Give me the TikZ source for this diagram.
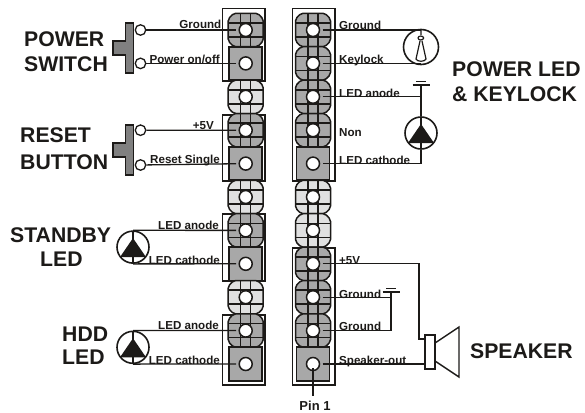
\documentclass[tikz,border=0pt]{standalone}
\usepackage{fontspec}
\setmainfont{Liberation Sans}
\definecolor{pingray}{HTML}{A8A8A8}
\definecolor{pinlight}{HTML}{E0E0E0}
\definecolor{switchgray}{HTML}{808080}
\definecolor{inkline}{HTML}{1C1A18}
\tikzset{
  wire/.style={draw=inkline, line width=1.3pt},
  pinline/.style={draw=inkline, line width=1.5pt},
  hole/.style={circle, draw=inkline, line width=1.5pt, fill=white, minimum size=13pt, inner sep=0pt, outer sep=3pt},
  terminal/.style={circle, draw=inkline, line width=1.3pt, fill=white, minimum size=10.5pt, inner sep=0pt},
  ledbody/.style={circle, draw=inkline, line width=1.6pt, fill=white, minimum size=32pt, inner sep=0pt},
  pinlabel/.style={font=\fontsize{11.6}{13}\selectfont\bfseries, text=inkline, inner sep=0pt},
  biglabel/.style={font=\fontsize{21.2}{24}\selectfont\bfseries, text=inkline, inner sep=0pt, anchor=base west},
  pics/octpin/.style={code={
    \draw[pinline, fill=#1, rounded corners=2pt] (-12,-16.7) -- (12,-16.7) -- (17.5,-11) -- (17.5,11)
      -- (12,16.7) -- (-12,16.7) -- (-17.5,11) -- (-17.5,-11) -- cycle;
    \draw[pinline] (-5,-16.7) -- (-5,16.7) (5,-16.7) -- (5,16.7) (-17.5,-7) -- (17.5,-7) (-17.5,7) -- (17.5,7);
  }},
  pics/squarepin/.style={code={
    \draw[line width=1.8pt, draw=inkline, fill=pingray] (-16.5,-16.7) rectangle (16.5,16.7);
  }},
  pics/ledmark/.style={code={
    \fill[inkline] (0,-9) -- (13,10) -- (-13,10) -- cycle;
    \draw[wire] (0,-16) -- (0,16);
  }},
  pics/pushswitch/.style={code={
    \draw[pinline, fill=switchgray] (-8,-25) -- (0,-25) -- (0,25) -- (-8,25) -- (-8,7) -- (-20.5,7)
      -- (-20.5,-7) -- (-8,-7) -- cycle;
  }},
  pics/groundmark/.style={code={
    \draw[line width=1.5pt, draw=inkline] (-8.5,0) -- (8.5,0);
    \draw[line width=1.5pt, draw=inkline] (-5,-3.5) -- (5,-3.5);
  }}
}
\begin{document}
\begin{tikzpicture}[x=1pt,y=-1pt]
  \useasboundingbox (0,0) rectangle (585,412);
  \def\lx{245.7}
  \def\rx{313}
  % outer frames of the left header
  \foreach \top/\bot in {8.5/81, 115/181, 214/281, 315/385}
    \draw[pinline] (222.7,\top) rectangle (265,\bot);
  % outer frames of the right header
  \foreach \top/\bot in {8.5/181, 248/385}
    \draw[pinline] (292.7,\top) rectangle (335,\bot);
  % left header pins
  \foreach \row/\kind/\shade [evaluate=\row as \y using 30+33.4*(\row-1)] in
    {1/octpin/pingray, 2/squarepin/, 3/octpin/pinlight, 4/octpin/pingray, 5/squarepin/, 6/octpin/pinlight,
     7/octpin/pingray, 8/squarepin/, 9/octpin/pinlight, 10/octpin/pingray, 11/squarepin/}
    \pic at (\lx,\y) {\kind=\shade};
  % right header pins
  \foreach \row/\kind/\shade [evaluate=\row as \y using 30+33.4*(\row-1)] in
    {1/octpin/pingray, 2/octpin/pingray, 3/octpin/pingray, 4/octpin/pingray, 5/squarepin/, 6/octpin/pinlight,
     7/octpin/pinlight, 8/octpin/pingray, 9/octpin/pingray, 10/octpin/pingray, 11/squarepin/}
    \pic at (\rx,\y) {\kind=\shade};
  % pin holes
  \foreach \row [evaluate=\row as \y using 30+33.4*(\row-1)] in {1,...,11} {
    \node[hole] (L\row) at (\lx,\y) {};
    \node[hole] (R\row) at (\rx,\y) {};
  }
  % power switch and reset button
  \pic at (133.3,47.8) {pushswitch};
  \pic at (133.3,150) {pushswitch};
  \node[terminal] (pwrA) at (140.5,30) {};
  \node[terminal] (pwrB) at (140.5,63.4) {};
  \node[terminal] (rstA) at (140.5,130.2) {};
  \node[terminal] (rstB) at (140.5,165) {};
  \draw[wire] (pwrA) -- (L1);
  \draw[wire] (pwrB) -- (L2);
  \draw[wire] (rstA) -- (L4);
  \draw[wire] (rstB) -- (L5);
  % standby and hdd leds
  \node[ledbody] (ledS) at (133,247.1) {};
  \node[ledbody] (ledH) at (133,347.3) {};
  \pic at (ledS) {ledmark};
  \pic at (ledH) {ledmark};
  \draw[wire] (ledS.north) -- (L7);
  \draw[wire] (ledS.south) -- (L8);
  \draw[wire] (ledH.north) -- (L10);
  \draw[wire] (ledH.south) -- (L11);
  % keylock
  \node[ledbody, minimum size=35pt] (keyL) at (421,47) {};
  \draw[wire] (R1) -- (R1-|keyL.north);
  \draw[wire] (R2) -- (R2-|keyL.south);
  \draw[line width=1.2pt, draw=inkline] (421,30) -- (421,35) (418,38) arc (180:-180:2.8 and 2)
    (420,41) -- (416,59) .. controls (417,62) and (425,62) .. (426,59) -- (422,41);
  % power led
  \node[ledbody] (ledP) at (421,133) {};
  \pic at (ledP) {ledmark};
  \coordinate (gndP) at (421,85);
  \pic at (gndP) {groundmark};
  \draw[wire] (gndP) -- (ledP.north);
  \draw[wire] (R3) -| (gndP);
  \draw[wire] (ledP.south) |- (R5);
  % speaker
  \node[draw=inkline, line width=1.4pt, fill=white, minimum width=10pt, minimum height=34pt, inner sep=0pt] (spk) at (430,352) {};
  \draw[line width=1.4pt, draw=inkline] (435,343) -- (459,327) -- (459,377) -- (435,361);
  \coordinate (gndS) at (391,292);
  \pic at (gndS) {groundmark};
  \draw[wire] (R8) -| (419,339) -- (spk.west|-0,339);
  \draw[wire] (R9) -| (gndS);
  \draw[wire] (R10) -| (gndS);
  \draw[wire] (R11) -- (R11-|spk.west);
  % pin 1 pointer
  \node[font=\fontsize{13}{14}\selectfont\bfseries, text=inkline, inner sep=0pt, anchor=base] (pinOne) at (315,410) {Pin 1};
  \draw[line width=1.1pt, draw=inkline, shorten <=4pt] (R11.center) -- (313,396);
  % labels on the left header
  \foreach \txt/\x/\y [count=\n] in {Ground/221.5/28.7, {Power on/off}/220/63.5, +5V/214/129.3, Reset Single/220/163,
    LED anode/219/229, LED cathode/220/264, LED anode/219/329, LED cathode/220/364}
    \node[pinlabel, anchor=base east] (lt\n) at (\x,\y) {\txt};
  % labels on the right header
  \foreach \txt/\y [count=\n] in {Ground/29.5, Keylock/63.5, LED anode/97, Non/136.5, LED cathode/164,
    +5V/264, Ground/298, Ground/330.7, Speaker-out/364.3}
    \node[pinlabel, anchor=base west] (rt\n) at (339,\y) {\txt};
  % device names
  \node[biglabel] (nmPower) at (24,46.7) {POWER};
  \node[biglabel] (nmSwitch) at (24,71) {SWITCH};
  \node[biglabel] (nmReset) at (20,142.7) {RESET};
  \node[biglabel] (nmButton) at (20,169) {BUTTON};
  \node[biglabel] (nmStandby) at (10,242.7) {STANDBY};
  \node[biglabel] (nmLedS) at (40,266.7) {LED};
  \node[biglabel] (nmHdd) at (62,341) {HDD};
  \node[biglabel] (nmLedH) at (62,364) {LED};
  \node[biglabel] (nmPowerLed) at (452,76.7) {POWER LED};
  \node[biglabel] (nmKeylock) at (452,101) {\& KEYLOCK};
  \node[biglabel] (nmSpeaker) at (470,358) {SPEAKER};
\end{tikzpicture}
\end{document}
